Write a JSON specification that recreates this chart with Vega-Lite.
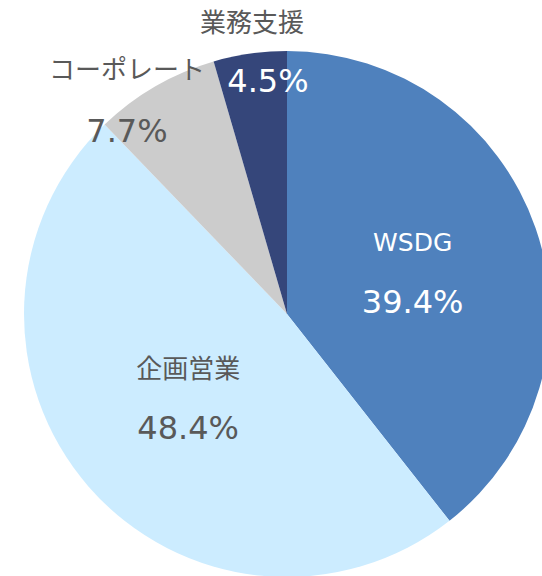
{
  "$schema": "https://vega.github.io/schema/vega-lite/v6.json",
  "width": 510,
  "height": 524,
  "autosize": {"type": "none"},
  "padding": {"left": 32, "top": 52, "right": 0, "bottom": 0},
  "background": "white",
  "view": {"stroke": null},
  "data": {
    "values": [
      {"cat": "WSDG", "value": 39.4, "label": "39.4%", "idx": 1},
      {"cat": "企画営業", "value": 48.4, "label": "48.4%", "idx": 2},
      {"cat": "コーポレート", "value": 7.7, "label": "7.7%", "idx": 3},
      {"cat": "業務支援", "value": 4.5, "label": "4.5%", "idx": 4}
    ]
  },
  "encoding": {
    "theta": {"field": "value", "type": "quantitative", "stack": true},
    "order": {"field": "idx", "type": "quantitative"}
  },
  "layer": [
    {
      "mark": {"type": "arc", "outerRadius": 263},
      "encoding": {
        "color": {
          "field": "cat",
          "type": "nominal",
          "scale": {
            "domain": ["WSDG", "企画営業", "コーポレート", "業務支援"],
            "range": ["#4F81BD", "#CCECFF", "#CCCCCC", "#35467A"]
          },
          "legend": null
        }
      }
    },
    {
      "mark": {"type": "text", "radius": 133, "dx": 0, "dy": -27.5, "fontSize": 25, "font": "DejaVu Sans, Noto Sans CJK JP", "color": "white", "baseline": "middle", "align": "center"},
      "encoding": {"text": {"condition": {"test": "datum.cat === 'WSDG'", "field": "cat"}, "value": ""}}
    },
    {
      "mark": {"type": "text", "radius": 133, "dx": 0, "dy": 32, "fontSize": 32, "font": "DejaVu Sans, Noto Sans CJK JP", "color": "white", "baseline": "middle", "align": "center"},
      "encoding": {"text": {"condition": {"test": "datum.cat === 'WSDG'", "field": "label"}, "value": ""}}
    },
    {
      "mark": {"type": "text", "radius": 131, "dx": 0, "dy": -30.4, "fontSize": 26, "font": "DejaVu Sans, Noto Sans CJK JP", "color": "#595959", "baseline": "middle", "align": "center"},
      "encoding": {"text": {"condition": {"test": "datum.cat === '企画営業'", "field": "cat"}, "value": ""}}
    },
    {
      "mark": {"type": "text", "radius": 131, "dx": 0, "dy": 29, "fontSize": 32, "font": "DejaVu Sans, Noto Sans CJK JP", "color": "#595959", "baseline": "middle", "align": "center"},
      "encoding": {"text": {"condition": {"test": "datum.cat === '企画営業'", "field": "label"}, "value": ""}}
    },
    {
      "mark": {"type": "text", "radius": 240, "dx": -39.8, "dy": -35.3, "fontSize": 26, "font": "DejaVu Sans, Noto Sans CJK JP", "color": "#595959", "baseline": "middle", "align": "center"},
      "encoding": {"text": {"condition": {"test": "datum.cat === 'コーポレート'", "field": "cat"}, "value": ""}}
    },
    {
      "mark": {"type": "text", "radius": 240, "dx": -39.8, "dy": 25.3, "fontSize": 32, "font": "DejaVu Sans, Noto Sans CJK JP", "color": "#595959", "baseline": "middle", "align": "center"},
      "encoding": {"text": {"condition": {"test": "datum.cat === 'コーポレート'", "field": "label"}, "value": ""}}
    },
    {
      "mark": {"type": "text", "radius": 260, "dx": 1.6, "dy": -32.1, "fontSize": 26, "font": "DejaVu Sans, Noto Sans CJK JP", "color": "#595959", "baseline": "middle", "align": "center"},
      "encoding": {"text": {"condition": {"test": "datum.cat === '業務支援'", "field": "cat"}, "value": ""}}
    },
    {
      "mark": {"type": "text", "radius": 260, "dx": 17.6, "dy": 25.4, "fontSize": 32, "font": "DejaVu Sans, Noto Sans CJK JP", "color": "white", "baseline": "middle", "align": "center"},
      "encoding": {"text": {"condition": {"test": "datum.cat === '業務支援'", "field": "label"}, "value": ""}}
    }
  ]
}
